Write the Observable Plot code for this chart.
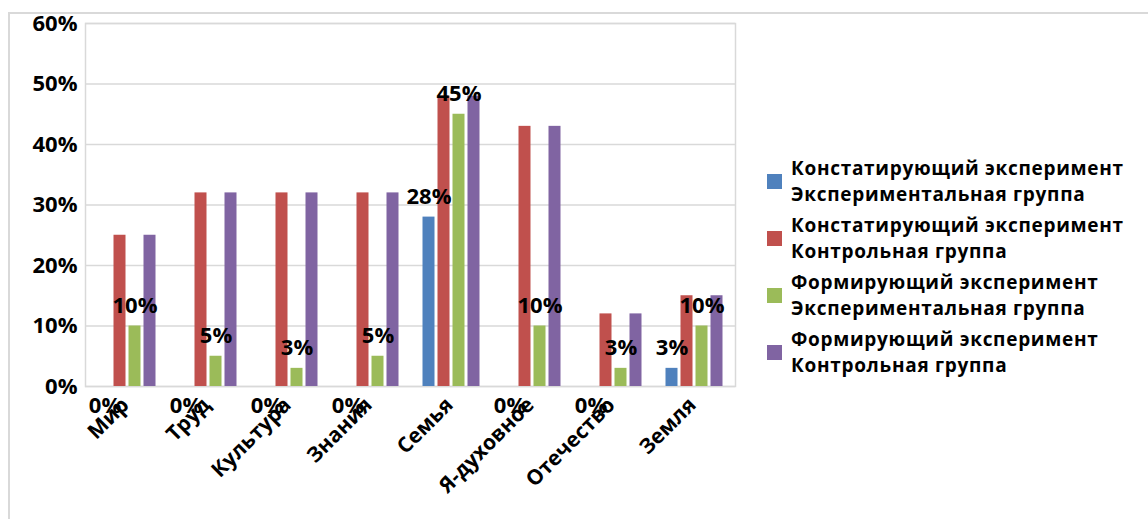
<!DOCTYPE html>
<html>
<head>
<meta charset="utf-8">
<script src="https://cdn.jsdelivr.net/npm/d3@7"></script>
<script src="https://cdn.jsdelivr.net/npm/@observablehq/plot@0.6"></script>
<style>
  body { margin: 0; background: #fff; }
  #wrap { position: relative; width: 1148px; height: 519px; overflow: hidden; font-family: "Open Sans", sans-serif; }
  #border { position: absolute; left: 8px; top: 12px; width: 1200px; height: 600px; border-left: 2px solid #d9d9d9; border-top: 2px solid #d9d9d9; }
  #chart { position: absolute; left: 0; top: 0; }
  #legend { position: absolute; left: 767px; top: 155px; }
  .item { display: flex; align-items: center; margin-bottom: 5px; }
  .sw { width: 15px; height: 15px; margin-right: 9px; flex: none; }
  .lab { font-weight: bold; font-size: 19px; line-height: 26px; letter-spacing: 0.7px; color: #000; white-space: nowrap; }
</style>
</head>
<body>
<div id="wrap">
  <div id="border"></div>
  <div id="chart"></div>
  <div id="legend"></div>
</div>
<script>
const categories = ["Мир", "Труд", "Культура", "Знания", "Семья", "Я-духовное", "Отечество", "Земля"];
const seriesNames = [
  ["Констатирующий эксперимент", "Экспериментальная группа"],
  ["Констатирующий эксперимент", "Контрольная группа"],
  ["Формирующий эксперимент", "Экспериментальная группа"],
  ["Формирующий эксперимент", "Контрольная группа"]
];
const colors = ["#4F81BD", "#C0504D", "#9BBB59", "#8064A2"];
const constExp = [0, 0, 0, 0, 0.28, 0, 0, 0.03];
const constCtrl = [0.25, 0.32, 0.32, 0.32, 0.48, 0.43, 0.12, 0.15];
const formExp = [0.10, 0.05, 0.03, 0.05, 0.45, 0.10, 0.03, 0.10];
const formCtrl = [0.25, 0.32, 0.32, 0.32, 0.48, 0.43, 0.12, 0.15];
const yTicks = [0, 0.1, 0.2, 0.3, 0.4, 0.5, 0.6];
const labelled = [true, false, true, false]; // which series show data labels

const seriesValues = [constExp, constCtrl, formExp, formCtrl];
const seriesKeys = seriesNames.map(d => d.join(" "));
const rows = seriesValues.map((vals, i) => categories.map((c, j) => ({category: c, value: vals[j], series: seriesKeys[i], idx: i})));

const step = 15;
const pct = d3.format(".0%");
const marks = [
  Plot.gridY(yTicks, {stroke: "#d9d9d9", strokeOpacity: 1, strokeWidth: 1.5}),
  Plot.frame({stroke: "#d9d9d9", strokeWidth: 1.5}),
  Plot.axisY(yTicks, {tickSize: 0, tickPadding: 8, tickFormat: pct, fontSize: 22, fontWeight: "bold", fill: "#000", label: null}),
  Plot.axisX({tickSize: 0, tickPadding: 4, tickRotate: -45, fontSize: 21, fontWeight: "bold", fill: "#000", label: null, dx: -2, dy: 11})
];
rows.forEach((data, i) => {
  const off = (i - 1.5) * step;
  marks.push(Plot.barY(data, {x: "category", y: "value", fill: colors[i], insetLeft: 24, insetRight: 24, dx: off}));
});
rows.forEach((data, i) => {
  if (!labelled[i]) return;
  const off = (i - 1.5) * step;
  marks.push(Plot.text(data.filter(d => d.value > 0), {x: "category", y: "value", text: d => pct(d.value), dx: off, dy: -20, fontSize: 22, fontWeight: "bold", fill: "#000"}));
  marks.push(Plot.text(data.filter(d => d.value === 0), {x: "category", y: "value", text: d => pct(d.value), dx: off, dy: 19, fontSize: 22, fontWeight: "bold", fill: "#000"}));
});

const chart = Plot.plot({
  width: 1148,
  height: 519,
  marginLeft: 85,
  marginRight: 413,
  marginTop: 23,
  marginBottom: 133,
  style: {fontFamily: '"Open Sans", sans-serif', background: "transparent", overflow: "visible"},
  x: {domain: categories, paddingInner: 0.26, paddingOuter: 0.13},
  y: {domain: [0, 0.6]},
  marks
});
document.getElementById("chart").appendChild(chart);

const legend = document.getElementById("legend");
seriesNames.forEach((lines, i) => {
  const item = document.createElement("div");
  item.className = "item";
  const sw = document.createElement("div");
  sw.className = "sw";
  sw.style.background = colors[i];
  const lab = document.createElement("div");
  lab.className = "lab";
  lab.innerHTML = lines.join("<br>");
  item.appendChild(sw);
  item.appendChild(lab);
  legend.appendChild(item);
});
</script>
</body>
</html>
